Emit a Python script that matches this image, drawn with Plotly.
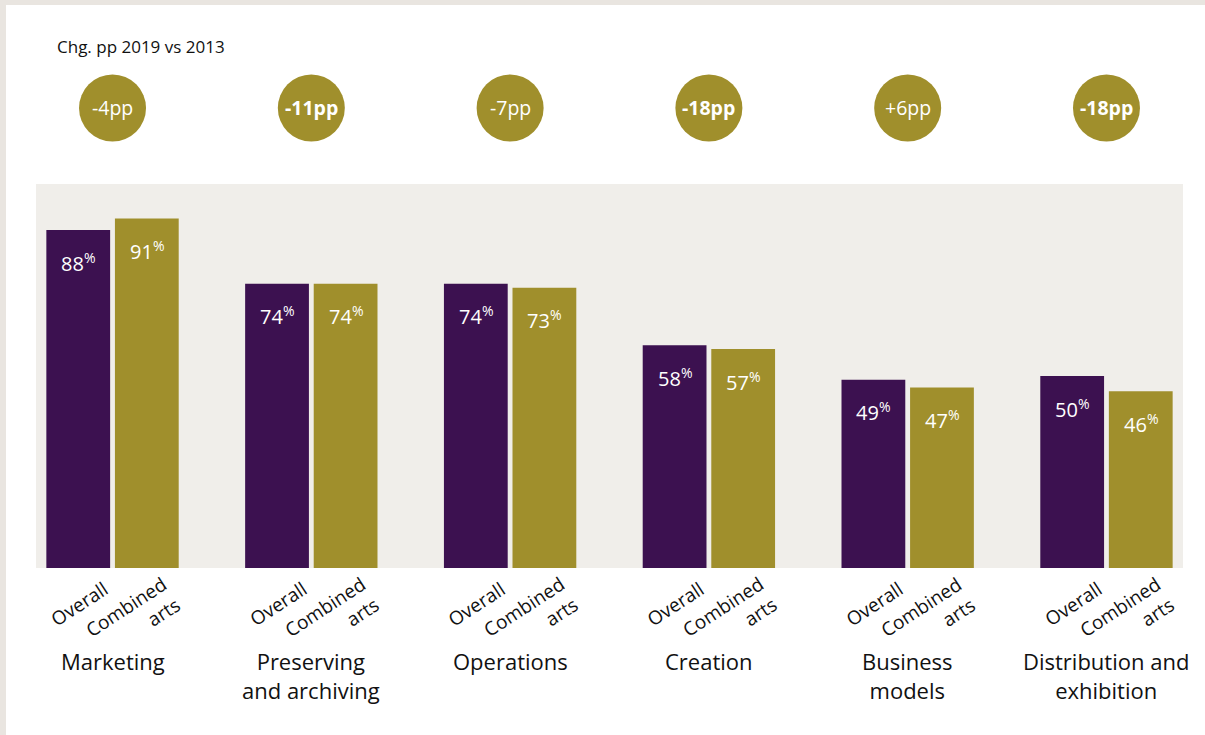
import plotly.graph_objects as go

# Share of organisations reporting digital activity, by area
areas = ["Marketing", "Preserving<br>and archiving", "Operations", "Creation",
         "Business<br>models", "Distribution and<br>exhibition"]
overall = [88, 74, 74, 58, 49, 50]
combined_arts = [91, 74, 73, 57, 47, 46]
change_pp = ["-4pp", "-11pp", "-7pp", "-18pp", "+6pp", "-18pp"]
change_bold = [False, True, False, True, False, True]
series_names = ["Overall", "Combined<br>arts"]

PURPLE = "#3c1150"
OLIVE = "#a08f2c"
PLOT_BG = "#f0eeea"
FRAME = "#e9e5e0"
FONT = "Open Sans"

W, H = 1205, 735
L, R, T, B = 36, 22, 184, 167
plot_h = H - T - B
BARGAP = 0.31
slot = (1 - BARGAP) / 4  # centre offset of each bar in a group

idx = list(range(len(areas)))

fig = go.Figure()
fig.add_trace(go.Bar(x=idx, y=overall, name="Overall", marker_color=PURPLE,
                     marker_line_width=0, hoverinfo="skip"))
fig.add_trace(go.Bar(x=idx, y=combined_arts, name="Combined arts", marker_color=OLIVE,
                     marker_line_width=0, hoverinfo="skip"))

def py(px_y):
    """pixel row -> paper y"""
    return (H - B - px_y) / plot_h

def px_x(px):
    return (px - L) / (W - L - R)

ann = []
shapes = []

# outer frame strips
shapes.append(dict(type="rect", xref="paper", yref="paper",
                   x0=px_x(0), x1=px_x(6), y0=py(H), y1=py(0),
                   fillcolor=FRAME, line_width=0, layer="below"))
shapes.append(dict(type="rect", xref="paper", yref="paper",
                   x0=px_x(0), x1=px_x(W), y0=py(5), y1=py(0),
                   fillcolor=FRAME, line_width=0, layer="below"))

ann.append(dict(text="Chg. pp 2019 vs 2013", xref="paper", yref="paper",
                x=px_x(55), y=py(46), xanchor="left", yanchor="middle",
                showarrow=False, font=dict(family=FONT, size=17, color="#111")))

for i in idx:
    # value labels inside bars
    for off, vals in ((-slot, overall), (slot, combined_arts)):
        ann.append(dict(text=f"{vals[i]}<sup>%</sup>", x=i + off, y=vals[i],
                        xref="x", yref="y", yshift=-32, showarrow=False,
                        xanchor="center", yanchor="middle",
                        font=dict(family=FONT, size=20, color="white")))
    # rotated series labels
    ann.append(dict(text=series_names[0], x=i - slot, y=py(604), xref="x", yref="paper",
                    xshift=1, textangle=-33, showarrow=False,
                    xanchor="center", yanchor="middle",
                    font=dict(family=FONT, size=19, color="#111")))
    ann.append(dict(text=series_names[1], x=i + slot, y=py(617), xref="x", yref="paper",
                    xshift=-14, textangle=-33, showarrow=False, align="right",
                    xanchor="center", yanchor="middle",
                    font=dict(family=FONT, size=19, color="#111")))
    # area names
    ann.append(dict(text=areas[i], x=i, y=py(644), xref="x", yref="paper",
                    showarrow=False, xanchor="center", yanchor="top",
                    font=dict(family=FONT, size=22, color="#111")))
    # change circles
    shapes.append(dict(type="circle", xref="x", yref="paper",
                       xsizemode="pixel", ysizemode="pixel",
                       xanchor=i, yanchor=py(108),
                       x0=-33.5, x1=33.5, y0=-33.5, y1=33.5,
                       fillcolor=OLIVE, line_width=0))
    label = f"<b>{change_pp[i]}</b>" if change_bold[i] else change_pp[i]
    ann.append(dict(text=label, x=i, y=py(108), xref="x", yref="paper",
                    showarrow=False, xanchor="center", yanchor="middle",
                    font=dict(family=FONT, size=19.5, color="white")))

fig.update_layout(
    width=W, height=H,
    margin=dict(l=L, r=R, t=T, b=B, pad=0),
    paper_bgcolor="white", plot_bgcolor=PLOT_BG,
    barmode="group", bargap=BARGAP, bargroupgap=0.07,
    showlegend=False,
    xaxis=dict(range=[-0.385, 5.385], showticklabels=False, showgrid=False,
               zeroline=False, ticks="", fixedrange=True),
    yaxis=dict(range=[0, 100], showticklabels=False, showgrid=False,
               zeroline=False, ticks="", fixedrange=True),
    annotations=ann, shapes=shapes,
    font=dict(family=FONT),
)

fig.write_html("out.html", config={"displayModeBar": False})
